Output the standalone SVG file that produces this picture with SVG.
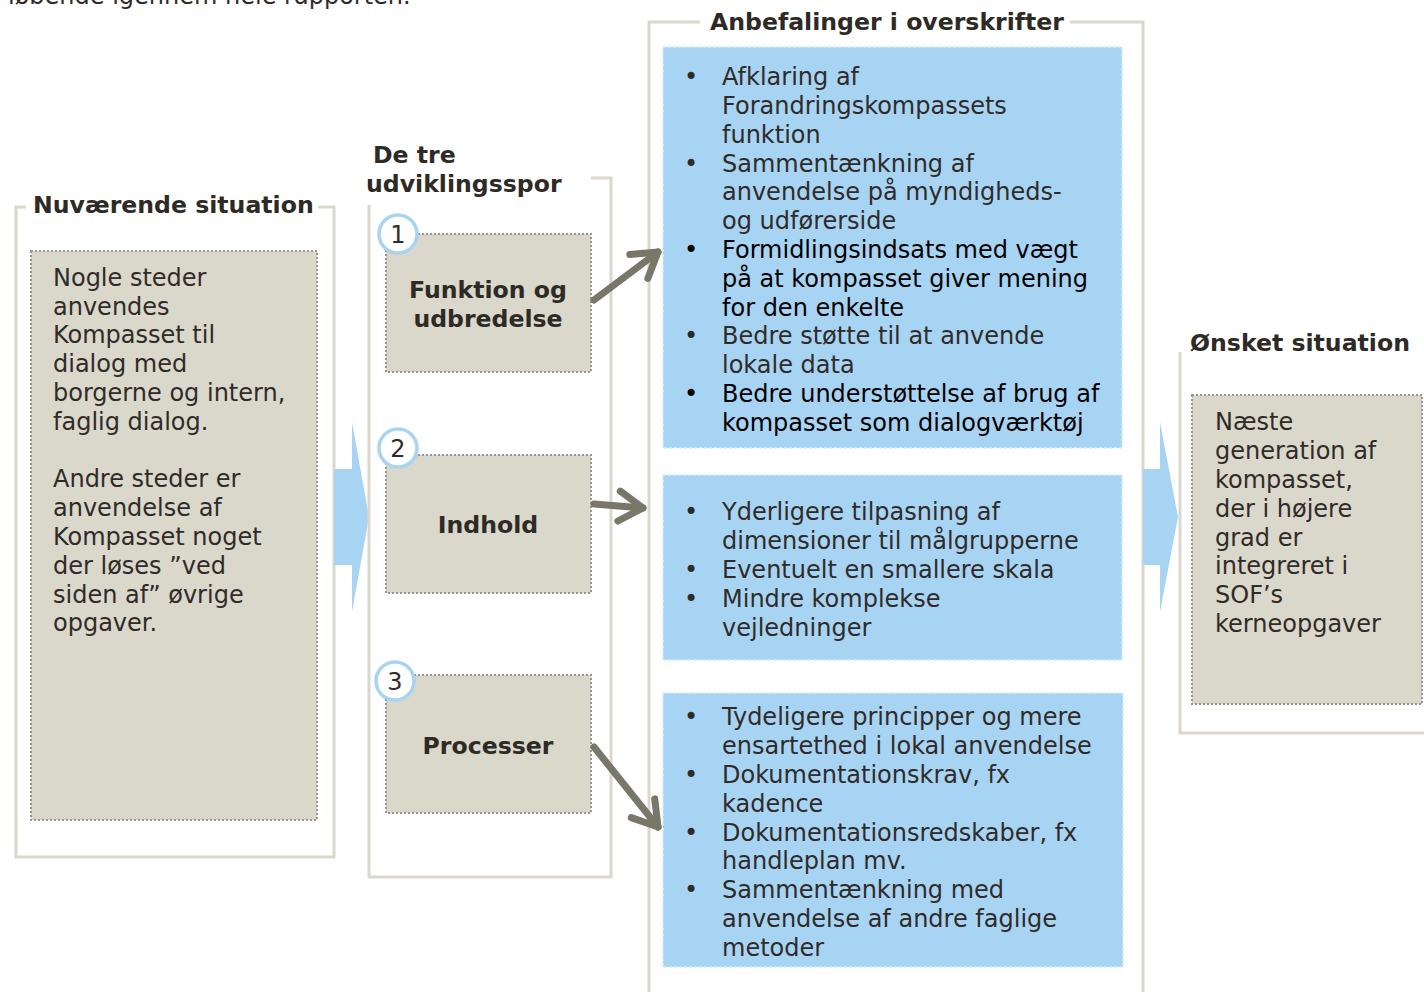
<svg xmlns="http://www.w3.org/2000/svg" width="1424" height="992" viewBox="0 0 1424 992">
<style>
text{font-family:"DejaVu Sans","Verdana",sans-serif;font-size:24px;fill:#302b28}
.b{font-weight:bold;fill:#2e2a26;font-size:23.6px}
.k{fill:#000}
.frame{fill:none;stroke:#dbd8cb;stroke-width:3}
.box{fill:#dad7cb;stroke:#9a958f;stroke-width:2;stroke-dasharray:2 2}
.blue{fill:#a8d4f4;stroke:#d6ebfb;stroke-width:1.5;stroke-dasharray:3 2}
.chev{fill:#a8d4f4}
.num{fill:#fff;stroke:#a8d4f4;stroke-width:3.5}
.arr{fill:none;stroke:#78776a;stroke-width:7;stroke-linecap:round;stroke-linejoin:round}
</style>
<defs>
<marker id="ah" markerUnits="userSpaceOnUse" viewBox="-30 -20 36 40" refX="0" refY="0" markerWidth="36" markerHeight="40" orient="auto">
<path d="M-24,-15 L0,0 L-24,15" fill="none" stroke="#78776a" stroke-width="7" stroke-linecap="round" stroke-linejoin="round"/>
</marker>
</defs>
<rect width="1424" height="992" fill="#fff"/>
<text x="8" y="4">løbende igennem hele rapporten.</text>

<g id="current">
<path class="frame" d="M26,207 H16 V857 H334 V207 H318"/>
<text class="b" x="33" y="213">Nuværende situation</text>
<rect class="box" x="31" y="251" width="286" height="569"/>
<text x="53" y="286">Nogle steder</text>
<text x="53" y="315">anvendes</text>
<text x="53" y="343">Kompasset til</text>
<text x="53" y="372">dialog med</text>
<text x="53" y="401">borgerne og intern,</text>
<text x="53" y="430">faglig dialog.</text>
<text x="53" y="487">Andre steder er</text>
<text x="53" y="516">anvendelse af</text>
<text x="53" y="545">Kompasset noget</text>
<text x="53" y="574">der løses ”ved</text>
<text x="53" y="603">siden af” øvrige</text>
<text x="53" y="631">opgaver.</text>
</g>

<g id="chevron-left">
<polygon class="chev" points="334,469 352,469 352,422 369,517 352,612 352,565 334,565"/>
</g>

<g id="tracks">
<path class="frame" d="M591,178 H611 V877 H369 V205"/>
<text class="b" x="373" y="163">De tre</text>
<text class="b" x="366" y="192">udviklingsspor</text>
</g>

<g id="track1">
<rect class="box" x="386" y="234" width="205" height="138"/>
<circle class="num" cx="398" cy="234" r="19"/>
<text x="398" y="243" text-anchor="middle">1</text>
<text class="b" x="488" y="298" text-anchor="middle">Funktion og</text>
<text class="b" x="488" y="327" text-anchor="middle">udbredelse</text>
</g>
<g id="track2">
<rect class="box" x="386" y="455" width="205" height="138"/>
<circle class="num" cx="398" cy="448" r="19"/>
<text x="398" y="457" text-anchor="middle">2</text>
<text class="b" x="488" y="533" text-anchor="middle">Indhold</text>
</g>
<g id="track3">
<rect class="box" x="386" y="675" width="205" height="138"/>
<circle class="num" cx="395" cy="681" r="19"/>
<text x="395" y="690" text-anchor="middle">3</text>
<text class="b" x="488" y="754" text-anchor="middle">Processer</text>
</g>

<g id="recommendations">
<path class="frame" d="M700,22 H649 V996 M1070,22 H1143 V996"/>
<text class="b" x="887" y="30" text-anchor="middle">Anbefalinger i overskrifter</text>
</g>

<g id="rec1">
<rect class="blue" x="663" y="47" width="459" height="401"/>
<text x="684" y="85">•</text>
<text x="722" y="85">Afklaring af</text>
<text x="722" y="114">Forandringskompassets</text>
<text x="722" y="143">funktion</text>
<text x="684" y="172">•</text>
<text x="722" y="172">Sammentænkning af</text>
<text x="722" y="200">anvendelse på myndigheds-</text>
<text x="722" y="229">og udførerside</text>
<text class="k" x="684" y="258">•</text>
<text class="k" x="722" y="258">Formidlingsindsats med vægt</text>
<text class="k" x="722" y="287">på at kompasset giver mening</text>
<text class="k" x="722" y="316">for den enkelte</text>
<text x="684" y="344">•</text>
<text x="722" y="344">Bedre støtte til at anvende</text>
<text x="722" y="373">lokale data</text>
<text class="k" x="684" y="402">•</text>
<text class="k" x="722" y="402">Bedre understøttelse af brug af</text>
<text class="k" x="722" y="431">kompasset som dialogværktøj</text>
</g>

<g id="rec2">
<rect class="blue" x="663" y="475" width="459" height="185"/>
<text x="684" y="520">•</text>
<text x="722" y="520">Yderligere tilpasning af</text>
<text x="722" y="549">dimensioner til målgrupperne</text>
<text x="684" y="578">•</text>
<text x="722" y="578">Eventuelt en smallere skala</text>
<text x="684" y="607">•</text>
<text x="722" y="607">Mindre komplekse</text>
<text x="722" y="636">vejledninger</text>
</g>

<g id="rec3">
<rect class="blue" x="663" y="693" width="460" height="274"/>
<text x="684" y="725">•</text>
<text x="722" y="725">Tydeligere principper og mere</text>
<text x="722" y="754">ensartethed i lokal anvendelse</text>
<text x="684" y="783">•</text>
<text x="722" y="783">Dokumentationskrav, fx</text>
<text x="722" y="812">kadence</text>
<text x="684" y="841">•</text>
<text x="722" y="841">Dokumentationsredskaber, fx</text>
<text x="722" y="869">handleplan mv.</text>
<text x="684" y="898">•</text>
<text x="722" y="898">Sammentænkning med</text>
<text x="722" y="927">anvendelse af andre faglige</text>
<text x="722" y="956">metoder</text>
</g>

<g id="chevron-right">
<polygon class="chev" points="1143,469 1160,469 1160,422 1178,517 1160,612 1160,565 1143,565"/>
</g>

<g id="desired">
<path class="frame" d="M1180,352 V733 H1426"/>
<text class="b" x="1190" y="351">Ønsket situation</text>
<rect class="box" x="1192" y="395" width="230" height="309"/>
<text x="1215" y="430">Næste</text>
<text x="1215" y="459">generation af</text>
<text x="1215" y="488">kompasset,</text>
<text x="1215" y="517">der i højere</text>
<text x="1215" y="546">grad er</text>
<text x="1215" y="574">integreret i</text>
<text x="1215" y="603">SOF’s</text>
<text x="1215" y="632">kerneopgaver</text>
</g>

<g id="connectors">
<path class="arr" d="M594,300 L658,252" marker-end="url(#ah)"/>
<path class="arr" d="M594,504 L643,508" marker-end="url(#ah)"/>
<path class="arr" d="M594,747 L658,827" marker-end="url(#ah)"/>
</g>
</svg>
